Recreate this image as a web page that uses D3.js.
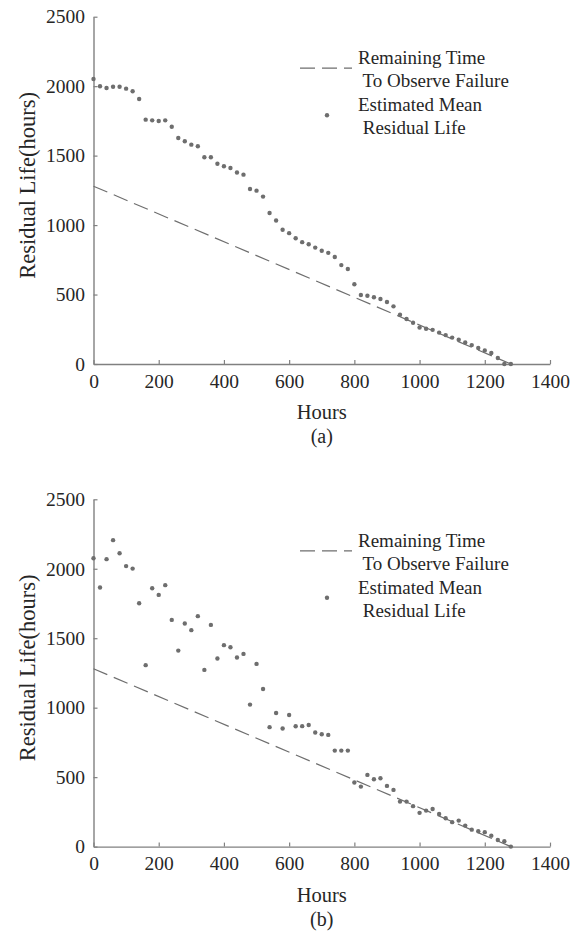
<!DOCTYPE html>
<html>
<head>
<meta charset="utf-8">
<script src="https://cdn.jsdelivr.net/npm/d3@7/dist/d3.min.js"></script>
<style>
  html, body { margin: 0; padding: 0; background: #fff; }
  svg { display: block; }
  svg text { font-family: "Liberation Serif", "DejaVu Serif", serif !important; fill: #262626; }
</style>
</head>
<body>
<svg id="chart" width="576" height="934" font-family="Liberation Serif, DejaVu Serif, serif"></svg>
<script>
// Inspection times (hours), one reading every 20 h
const hours = d3.range(0, 1281, 20);

// Panel (a): estimated mean residual life
const residualA = [
  2052, 1999, 1987, 1996, 1996, 1982, 1963, 1908, 1759, 1754,
  1749, 1754, 1708, 1627, 1603, 1579, 1567, 1488, 1488, 1442,
  1423, 1411, 1379, 1363, 1260, 1248, 1205, 1087, 1033, 966,
  942, 905, 877, 862, 838, 815, 800, 770, 712, 684,
  574, 497, 491, 481, 468, 446, 415, 355, 324, 297,
  262, 254, 246, 226, 208, 190, 175, 155, 136, 115,
  98, 79, 43, 0, 0
];

// Panel (b): estimated mean residual life
const residualB = [
  2076, 1865, 2069, 2206, 2112, 2019, 2001, 1752, 1306, 1860,
  1812, 1882, 1632, 1411, 1606, 1558, 1659, 1272, 1596, 1354,
  1450, 1435, 1361, 1387, 1022, 1315, 1135, 860, 962, 850,
  947, 866, 867, 875, 821, 809, 804, 691, 691, 691,
  461, 432, 516, 485, 492, 437, 408, 324, 324, 291,
  243, 259, 271, 235, 204, 176, 187, 151, 122, 111,
  104, 79, 48, 39, 0
];

// Remaining time until the observed failure at 1280 h
const failureTime = 1280;
const remainingEnds = [0, failureTime];

const xTicks = [0, 200, 400, 600, 800, 1000, 1200, 1400];
const yTicks = [0, 500, 1000, 1500, 2000, 2500];
const legendLine = ["Remaining Time", " To Observe Failure"];
const legendDot = ["Estimated Mean", " Residual Life"];
const panelLabels = ["(a)", "(b)"];

const serif = '"Liberation Serif", "DejaVu Serif", serif';
const svg = d3.select("#chart");
const axisColor = "#808080";
const markColor = "#6e6e6e";

const x = d3.scaleLinear().domain([0, 1400]).range([93.5, 550]);

function drawPanel(top, values, label) {
  const g = svg.append("g").attr("transform", `translate(0,${top})`);
  const y = d3.scaleLinear().domain([0, 2500]).range([347.3, 0]);

  // axes with inward ticks
  const xAxis = d3.axisBottom(x).tickValues(xTicks).tickFormat(d3.format("d"))
    .tickSizeInner(-4).tickSizeOuter(0).tickPadding(10);
  const yAxis = d3.axisLeft(y).tickValues(yTicks).tickFormat(d3.format("d"))
    .tickSizeInner(-4).tickSizeOuter(0).tickPadding(8.5);

  const gx = g.append("g").attr("transform", `translate(0,${y(0)})`).call(xAxis);
  const gy = g.append("g").attr("transform", `translate(${x(0)},0)`).call(yAxis);
  [gx, gy].forEach(a => {
    a.attr("font-family", serif);
    a.selectAll("path.domain").attr("stroke", axisColor).attr("stroke-width", 1.4);
    a.selectAll(".tick line").attr("stroke", axisColor).attr("stroke-width", 1.2);
    a.selectAll(".tick text").attr("font-size", 19.5).attr("fill", "#262626");
  });

  // remaining time line
  g.append("line")
    .attr("x1", x(remainingEnds[0])).attr("y1", y(failureTime - remainingEnds[0]))
    .attr("x2", x(remainingEnds[1])).attr("y2", y(failureTime - remainingEnds[1]))
    .attr("stroke", markColor).attr("stroke-width", 1.2)
    .attr("stroke-dasharray", "15,7");

  // estimated mean residual life points
  g.append("g").selectAll("circle")
    .data(values)
    .join("circle")
    .attr("cx", (d, i) => x(hours[i]))
    .attr("cy", d => y(d))
    .attr("r", 2.2)
    .attr("fill", markColor);

  // axis titles
  g.append("text")
    .attr("transform", `translate(35,${y(1250) - 5}) rotate(-90)`)
    .attr("text-anchor", "middle")
    .attr("font-size", 22.5)
    .text("Residual Life(hours)");
  g.append("text")
    .attr("x", (x(0) + x(1400)) / 2).attr("y", y(0) + 55)
    .attr("text-anchor", "middle").attr("font-size", 20.5)
    .text("Hours");
  g.append("text")
    .attr("x", (x(0) + x(1400)) / 2).attr("y", y(0) + 79)
    .attr("text-anchor", "middle").attr("font-size", 20)
    .text(label);

  // legend
  const lg = g.append("g");
  lg.append("line")
    .attr("x1", 300).attr("x2", 352).attr("y1", 51.5).attr("y2", 51.5)
    .attr("stroke", markColor).attr("stroke-width", 1.2)
    .attr("stroke-dasharray", "15,7");
  lg.append("circle").attr("cx", 327).attr("cy", 98.5).attr("r", 2.2).attr("fill", markColor);
  const legendRows = legendLine.concat(legendDot);
  const rowY = [47.5, 70.8, 94.3, 117.8];
  lg.selectAll("text.leg")
    .data(legendRows)
    .join("text")
    .attr("class", "leg")
    .attr("x", 358)
    .attr("y", (d, i) => rowY[i])
    .attr("font-size", 19)
    .attr("xml:space", "preserve")
    .style("white-space", "pre")
    .text(d => d);
}

drawPanel(16.7, residualA, panelLabels[0]);
drawPanel(499.3, residualB, panelLabels[1]);
</script>
</body>
</html>
